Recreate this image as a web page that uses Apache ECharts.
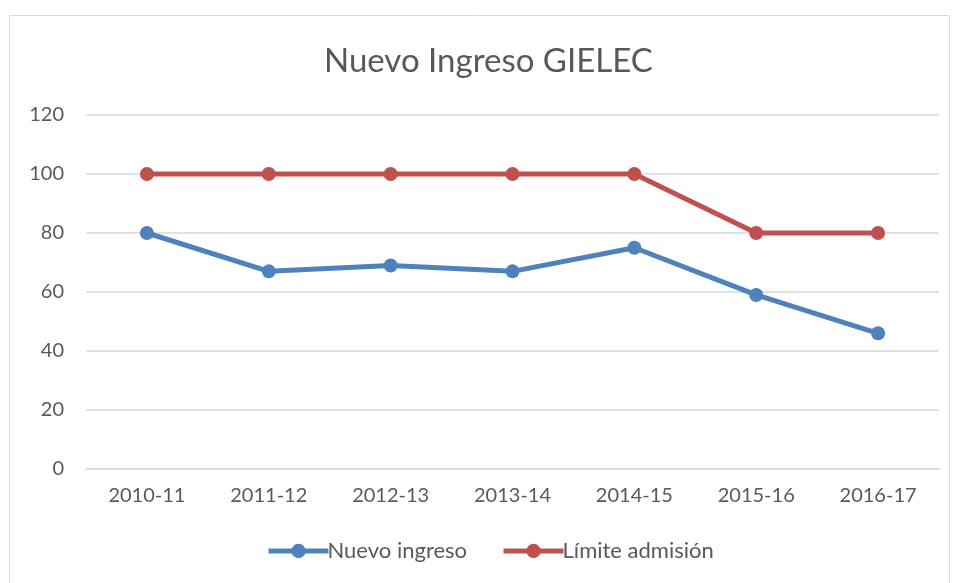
<!DOCTYPE html>
<html><head><meta charset="utf-8">
<script src="https://cdn.jsdelivr.net/npm/echarts@6/dist/echarts.min.js"></script>
<style>html,body{margin:0;padding:0;background:#fff}#c{width:955px;height:583px}</style>
</head><body><div id="c"></div>
<script>
const categories = ['2010-11','2011-12','2012-13','2013-14','2014-15','2015-16','2016-17'];
const nuevoIngreso = [80, 67, 69, 67, 75, 59, 46];
const limiteAdmision = [100, 100, 100, 100, 100, 80, 80];
const yTicks = {min: 0, max: 120, interval: 20};
const font = 'Lato, "Open Sans", sans-serif';
const chart = echarts.init(document.getElementById('c'));
chart.setOption({
  animation: false,
  backgroundColor: '#fff',
  title: {text: 'Nuevo Ingreso GIELEC', left: 319, top: 40,
    textStyle: {fontFamily: font, fontSize: 33, fontWeight: 'normal', color: '#595959'}},
  graphic: [{type: 'rect', shape: {x: 9.5, y: 15.5, width: 940, height: 580},
    style: {fill: 'none', stroke: '#d9d9d9', lineWidth: 1}, silent: true}],
  legend: {bottom: 16, left: 261, itemWidth: 60, itemHeight: 18, itemGap: 34,
    lineStyle: {width: 5},
    textStyle: {fontFamily: font, fontSize: 22, color: '#595959', padding: [0,0,0,-6]},
    data: ['Nuevo ingreso', 'Límite admisión']},
  grid: {left: 86, right: 16, top: 115, bottom: 114, containLabel: false},
  xAxis: {type: 'category', data: categories, boundaryGap: true,
    axisLine: {lineStyle: {color: '#d9d9d9', width: 1.5}}, axisTick: {show: false},
    axisLabel: {fontFamily: font, fontSize: 20, color: '#595959', margin: 17}},
  yAxis: {type: 'value', min: yTicks.min, max: yTicks.max, interval: yTicks.interval,
    axisLine: {show: false}, axisTick: {show: false},
    axisLabel: {fontFamily: font, fontSize: 20, color: '#595959', margin: 22},
    splitLine: {lineStyle: {color: '#d9d9d9', width: 1.5}}},
  series: [
    {name: 'Nuevo ingreso', type: 'line', data: nuevoIngreso, color: '#4F81BD',
      symbol: 'circle', symbolSize: 14, lineStyle: {width: 5}},
    {name: 'Límite admisión', type: 'line', data: limiteAdmision, color: '#C0504D',
      symbol: 'circle', symbolSize: 14, lineStyle: {width: 5}}
  ]
});
</script></body></html>
